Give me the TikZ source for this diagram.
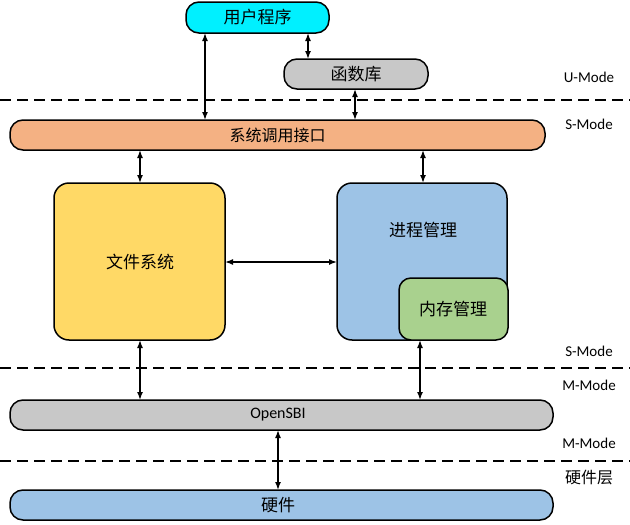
\documentclass[tikz,border=0pt]{standalone}
\usepackage{fontspec}
\setmainfont{Carlito}
\newfontfamily\cjk{Noto Sans CJK SC}
\usetikzlibrary{arrows.meta}
\definecolor{ccyan}{RGB}{0,240,255}
\definecolor{cgray}{RGB}{200,200,200}
\definecolor{corange}{RGB}{244,177,131}
\definecolor{cyellow}{RGB}{255,217,102}
\definecolor{cblue}{RGB}{157,195,230}
\definecolor{cgreen}{RGB}{169,209,142}
\tikzset{
  box/.style={draw=black, line width=1.5pt, rounded corners=#1},
  box/.default=13pt,
  lbl/.style={font=\fontsize{15}{17}\selectfont},
  zh/.style={font=\cjk\fontsize{17}{19}\selectfont},
  zhs/.style={font=\cjk\fontsize{16}{18}\selectfont},
  link/.style={line width=1.5pt, {Latex[length=8pt,width=6pt]}-{Latex[length=8pt,width=6pt]}},
  sep/.style={line width=1.3pt, dash pattern=on 11pt off 6pt},
}
\begin{document}
\begin{tikzpicture}[x=1pt,y=-1pt]
\useasboundingbox (0,0) rectangle (630,525);
% boxes
\draw[box, fill=ccyan] (186,2) rectangle (329,33);
\node[zh] (user) at (257.5,17.5) {用户程序};
\draw[box, fill=cgray] (284,59) rectangle (428,89);
\node[zh] (lib) at (356,74) {函数库};
\draw[box, fill=corange] (10,120) rectangle (545,150);
\node[zhs] (sci) at (277.5,135) {系统调用接口};
\draw[box=15pt, fill=cyellow] (54,183) rectangle (225,340);
\node[zh] (fs) at (140,262) {文件系统};
\draw[box=15pt, fill=cblue] (337,183) rectangle (507,340);
\node[zh] (pm) at (423,230) {进程管理};
\draw[box=12pt, fill=cgreen] (399,278) rectangle (508,340);
\node[zh] (mm) at (453,309) {内存管理};
\draw[box, fill=cgray] (10,400) rectangle (553,430);
\node[font=\fontsize{16}{18}\selectfont] (sbi) at (278,415) {OpenSBI};
\draw[box, fill=cblue] (10,490) rectangle (553,520);
\node[zh] (hw) at (278,505) {硬件};
% coordinates for connector ends
\coordinate (u1) at (205,33); \coordinate (s1) at (205,120);
\coordinate (u2) at (308,33); \coordinate (l2) at (308,59);
\coordinate (l3) at (355,89); \coordinate (s3) at (355,120);
\coordinate (s4) at (140,150); \coordinate (f4) at (140,183);
\coordinate (s5) at (423,150); \coordinate (p5) at (423,183);
\coordinate (f6) at (225,262); \coordinate (p6) at (337,262);
\coordinate (f7) at (140,340); \coordinate (o7) at (140,400);
\coordinate (m8) at (420,340); \coordinate (o8) at (420,400);
\coordinate (o9) at (278,430); \coordinate (h9) at (278,490);
\draw[link] (u1) -- (s1);
\draw[link] (u2) -- (l2);
\draw[link] (l3) -- (s3);
\draw[link] (s4) -- (f4);
\draw[link] (s5) -- (p5);
\draw[link] (f6) -- (p6);
\draw[link] (f7) -- (o7);
\draw[link] (m8) -- (o8);
\draw[link] (o9) -- (h9);
% separators
\coordinate (d1a) at (0,100); \coordinate (d1b) at (630,100);
\coordinate (d2a) at (0,368); \coordinate (d2b) at (630,368);
\coordinate (d3a) at (0,461); \coordinate (d3b) at (630,461);
\draw[sep] (d1a) -- (d1b);
\draw[sep] (d2a) -- (d2b);
\draw[sep] (d3a) -- (d3b);
% mode labels
\node[lbl] (m1) at (589,77) {U-Mode};
\node[lbl] (m2) at (589,124) {S-Mode};
\node[lbl] (m3) at (589,351) {S-Mode};
\node[lbl] (m4) at (589,385) {M-Mode};
\node[lbl] (m5) at (589,443) {M-Mode};
\node[zhs] (m6) at (589,478) {硬件层};
\end{tikzpicture}
\end{document}
